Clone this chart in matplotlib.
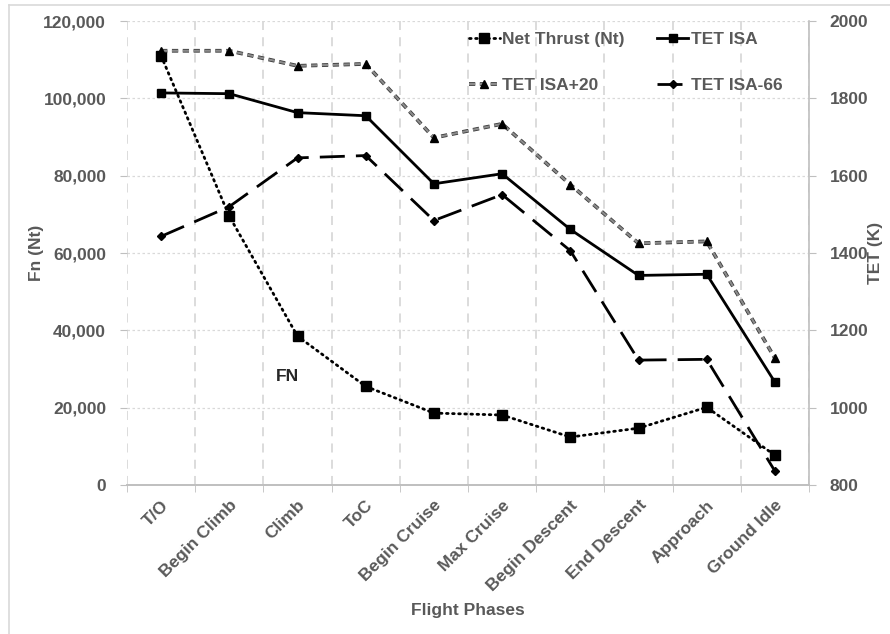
import numpy as np
import matplotlib
matplotlib.use("Agg")
import matplotlib.pyplot as plt
import matplotlib.patheffects as pe
from matplotlib.lines import Line2D
from matplotlib.ticker import FuncFormatter

plt.rcParams['font.family'] = ['Liberation Sans', 'DejaVu Sans']
plt.rcParams['font.weight'] = 'bold'
plt.rcParams['axes.labelweight'] = 'bold'

phases = ["T/O", "Begin Climb", "Climb", "ToC", "Begin Cruise", "Max Cruise",
          "Begin Descent", "End Descent", "Approach", "Ground Idle"]
net_thrust = [111000, 69500, 38500, 25500, 18600, 18100, 12400, 14700, 20100, 7700]
tet_isa = [1814, 1812, 1763, 1755, 1579, 1605, 1461, 1342, 1345, 1066]
tet_isa_p20 = [1923, 1923, 1884, 1889, 1698, 1734, 1577, 1425, 1430, 1128]
tet_isa_m66 = [1443, 1520, 1646, 1652, 1484, 1551, 1406, 1123, 1125, 836]

GREY = '#595959'
GRID = '#d9d9d9'

fig = plt.figure(figsize=(8.9, 6.34), dpi=100)
ax = fig.add_axes([127/890, 1 - 485/634, (809 - 127)/890, (485 - 21)/634])
ax2 = ax.twinx()

x = np.arange(len(phases))

# left axis: net thrust
l_nt, = ax.plot(x, net_thrust, color='black', lw=2.0, linestyle=(0, (0.6, 1.6)),
                dash_capstyle='round', marker='s', markersize=7.5,
                label='Net Thrust (Nt)', zorder=3)
ax.set_xlim(-0.5, len(phases) - 0.5)
ax.set_ylim(0, 120000)
ax.set_yticks(np.arange(0, 120001, 20000))
ax.yaxis.set_major_formatter(FuncFormatter(lambda v, p: f"{int(v):,}"))

# right axis: temperatures
l_isa, = ax2.plot(x, tet_isa, color='black', lw=2.0, marker='s', markersize=5.5,
                  label='TET ISA')
l_p20, = ax2.plot(x, tet_isa_p20, color='#8c8c8c', lw=1.5, linestyle=(0, (3, 2.2)),
                  path_effects=[pe.Stroke(linewidth=2.7, foreground='#3a3a3a'), pe.Normal()])
m_p20, = ax2.plot(x, tet_isa_p20, linestyle='none', marker='^', markersize=5.5,
                  color='black')
l_m66, = ax2.plot(x, tet_isa_m66, color='black', lw=2.0, linestyle=(0, (9, 4)),
                  marker='D', markersize=4.5, label='TET ISA-66')
ax2.set_ylim(800, 2000)
ax2.set_yticks(np.arange(800, 2001, 200))

# grid
ax.set_xticks(x)
ax.set_xticks(np.arange(-0.5, len(phases), 1), minor=True)
ax.grid(True, which='major', axis='y', color=GRID, lw=0.9, linestyle=(0, (2, 2)))
ax.grid(True, which='minor', axis='x', color=GRID, lw=1.3, linestyle=(0, (5, 4)))
ax.set_axisbelow(True)

for a in (ax, ax2):
    a.spines['top'].set_visible(False)
    a.spines['left'].set_visible(False)
    a.spines['right'].set_visible(False)
    a.spines['bottom'].set_color('#bfbfbf')
    a.spines['bottom'].set_linewidth(1.2)
ax2.spines['right'].set_visible(True)
ax2.spines['right'].set_color('#bfbfbf')
ax2.spines['right'].set_linewidth(1.2)

ax.tick_params(axis='x', which='major', length=0, pad=9)
ax.tick_params(axis='x', which='minor', length=5, color='#bfbfbf', direction='out')
ax.tick_params(axis='y', length=5, color='#bfbfbf', labelsize=12.5, labelcolor=GREY, pad=10)
ax2.tick_params(axis='y', length=5, color='#bfbfbf', labelsize=12.5, labelcolor=GREY, pad=10)
ax.set_xticklabels(phases, rotation=45, ha='right', rotation_mode='anchor',
                   fontsize=12.5, color=GREY)

ax.set_ylabel('Fn (Nt)', fontsize=12.5, color=GREY)
ax2.set_ylabel('TET (K)', fontsize=12.5, color=GREY, rotation=90)
ax.set_xlabel('Flight Phases', fontsize=12.5, color=GREY)
ax.xaxis.set_label_coords(0.5, -0.255)
ax.yaxis.set_label_coords(-0.122, 0.5)
ax2.yaxis.set_label_coords(1.086, 0.5)

ax.text(1.85, 28000, 'FN', fontsize=12.5, fontweight='bold', color='#262626',
        ha='center', va='center')

handles = [l_nt, (l_p20, m_p20), l_isa, l_m66]
labels = ['Net Thrust (Nt)', 'TET ISA+20', 'TET ISA', 'TET ISA-66']
leg = ax2.legend(handles=handles, labels=labels, ncol=2,
                 loc='upper left', bbox_to_anchor=(0.478, 1.011), frameon=False,
                 fontsize=12.5, handlelength=1.8, handletextpad=0.15,
                 columnspacing=1.85, labelspacing=1.78)
for t in leg.get_texts():
    t.set_color(GREY)

# light frame around the chart
fig.add_artist(Line2D([9/890, 9/890], [0, 1 - 5/634], color=GRID, lw=1.2))
fig.add_artist(Line2D([9/890, 1], [1 - 5/634, 1 - 5/634], color=GRID, lw=1.2))

fig.savefig('out.png', dpi=100)
